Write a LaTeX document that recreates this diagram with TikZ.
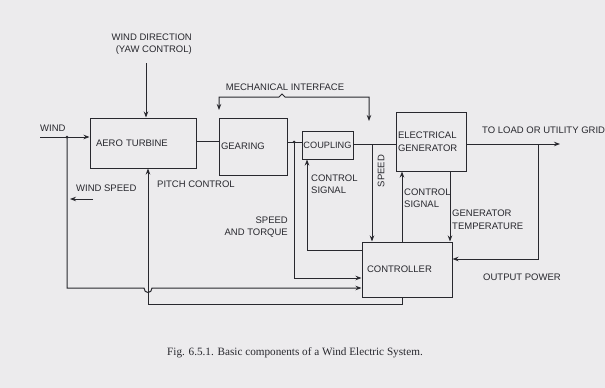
\documentclass[tikz,border=0pt]{standalone}
\usepackage{fontspec}
\setmainfont{Liberation Sans}
\newfontfamily\capfont{Liberation Serif}
\usetikzlibrary{arrows.meta}
\definecolor{paper}{RGB}{236,235,237}
\definecolor{ink}{RGB}{40,40,46}
\begin{document}
\begin{tikzpicture}[x=1pt,y=-1pt,
  lbl/.style={font=\fontsize{9.5}{12.5}\selectfont, text=ink, inner sep=0pt},
  box/.style={draw=ink, line width=1pt, rectangle, font=\fontsize{9.5}{13}\selectfont, text=ink, align=left, inner ysep=2pt},
  conn/.style={draw=ink, line width=1pt},
  arr/.style={conn, -{Stealth[length=6pt,width=4.5pt]}},
  jdot/.style={circle, fill=ink, inner sep=0pt, minimum size=3pt}]
\fill[paper] (0,0) rectangle (605,388);
\useasboundingbox (0,0) rectangle (605,388);

% boxes
\node[box, minimum width=106pt, minimum height=50pt, text width=94pt, inner xsep=6pt] (aero) at (143,143) {AERO TURBINE};
\node[box, minimum width=68pt, minimum height=57pt, text width=64pt, inner xsep=2pt] (gearing) at (253,146.5) {GEARING};
\node[box, minimum width=51pt, minimum height=28pt, inner xsep=1pt, font=\fontsize{9.2}{11}\selectfont] (coupling) at (327.5,145) {COUPLING};
\node[box, minimum width=70pt, minimum height=59pt, text width=66pt, inner xsep=2pt] (generator) at (431,141.5) {ELECTRICAL\\GENERATOR};
\node[box, minimum width=90pt, minimum height=55pt, text width=80pt, inner xsep=5pt] (controller) at (407,269.5) {CONTROLLER};

% labels
\node[lbl, anchor=west] (wind) at (40,128) {WIND};
\node[lbl, align=right, anchor=east] (wd) at (192,44) {WIND DIRECTION\\(YAW CONTROL)};
\node[lbl] (mech) at (285,87) {MECHANICAL INTERFACE};
\node[lbl, anchor=west] (grid) at (482,130) {TO LOAD OR UTILITY GRID};
\node[lbl, anchor=west] (wspeed) at (76,188) {WIND SPEED};
\node[lbl, anchor=west] (pitch) at (157,184) {PITCH CONTROL};
\node[lbl, align=left, anchor=west] (csig1) at (311,184) {CONTROL\\SIGNAL};
\node[lbl, rotate=90] (speed) at (381,171) {SPEED};
\node[lbl, align=left, anchor=west] (csig2) at (404,198) {CONTROL\\SIGNAL};
\node[lbl, align=left, anchor=west] (gtemp) at (452,219.5) {GENERATOR\\TEMPERATURE};
\node[lbl, align=right, anchor=east] (sat) at (288,227) {SPEED\\AND TORQUE\hspace{10pt}};
\node[lbl, anchor=west] (opow) at (483,277) {OUTPUT POWER};
\node[font=\capfont\fontsize{11.2}{13}\selectfont, text=ink, inner sep=0pt] (cap) at (295,353) {Fig. 6.5.1. Basic components of a Wind Electric System.};

% junctions and free ends
\coordinate (windst) at (40,137);
\coordinate (jw) at (67,137);
\coordinate (jg) at (294,142);
\coordinate (js) at (372,144);
\coordinate (jo) at (538,144);
\coordinate (outend) at (560,144);
\coordinate (wdtop) at (146,63);
\coordinate (mi1) at (219,110);
\coordinate (mil) at (219,97);
\coordinate (mir) at (369,97);
\coordinate (mi2) at (369,121);
\coordinate (ws1) at (93,199);
\coordinate (ws2) at (70,199);

% connectors
\draw[arr] (windst) -- (windst -| aero.west);
\node[jdot] at (jw) {};
\draw[arr] (wdtop) -- ([xshift=3pt]aero.north);
\draw[conn, {Stealth[length=6pt,width=4.5pt]}-{Stealth[length=6pt,width=4.5pt]}] (mi1) -- (mil) -- (279,97) -- (282,94) -- (285,97) -- (mir) -- (mi2);
\draw[conn] ([yshift=2pt]aero.east) -- ([yshift=2pt]aero.east -| gearing.west);
\draw[conn] (gearing.east |- jg) -- (coupling.west |- jg);
\node[jdot] at (jg) {};
\draw[conn] (coupling.east |- js) -- (generator.west |- js);
\draw[arr] (js) -- (js |- controller.north);
\draw[arr] (generator.east |- js) -- (outend);
\draw[arr] (jo) |- ([yshift=10.5pt]controller.east);
\draw[arr] ([yshift=19.5pt]controller.west) -| ([xshift=-20.5pt]coupling.south);
\draw[arr] (jg) |- ([yshift=-8.5pt]controller.west);
\draw[arr] ([xshift=-5pt]controller.north) -- ([xshift=-5pt]controller.north |- generator.south);
\draw[arr] ([xshift=19pt]generator.south) -- ([xshift=19pt]generator.south |- controller.north);
\draw[arr] (jw) -- (67,288) -- (144,288) .. controls (144,294) and (152,294) .. (152,288) -- ([yshift=-18.5pt]controller.west);
\draw[arr] ([xshift=-5pt]controller.south) -- ++(0,7) -| ([xshift=5pt]aero.south);
\draw[arr] (ws1) -- (ws2);
\end{tikzpicture}
\end{document}
